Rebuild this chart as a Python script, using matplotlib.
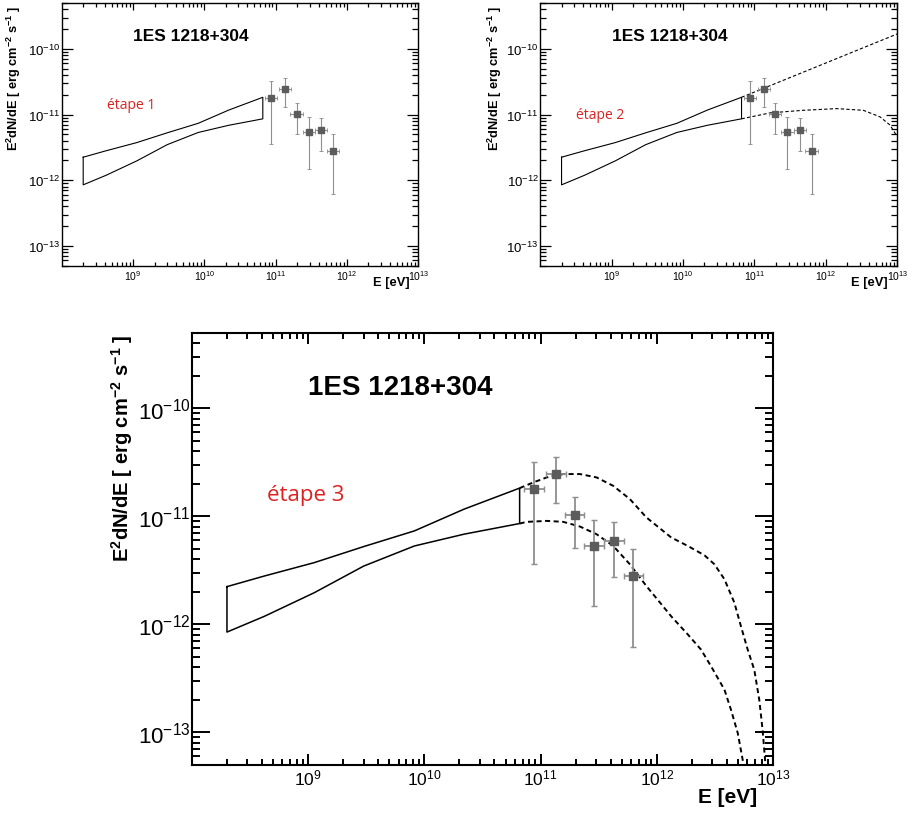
import matplotlib
matplotlib.use("Agg")
import matplotlib.pyplot as plt
from matplotlib.ticker import NullFormatter, LogLocator

plt.rcParams["font.family"] = "Liberation Sans"
plt.rcParams["mathtext.default"] = "regular"

# measured spectral points (E in eV, E^2 dN/dE in erg cm^-2 s^-1)
energy = [8.7e10, 1.35e11, 1.96e11, 2.9e11, 4.3e11, 6.3e11]
energy_low = [7.15e10, 1.11e11, 1.61e11, 2.38e11, 3.54e11, 5.18e11]
energy_high = [1.06e11, 1.64e11, 2.38e11, 3.53e11, 5.23e11, 7.66e11]
flux = [1.8e-11, 2.45e-11, 1.03e-11, 5.35e-12, 5.9e-12, 2.8e-12]
flux_low = [3.6e-12, 1.32e-11, 5.1e-12, 1.48e-12, 2.75e-12, 6.2e-13]
flux_high = [3.2e-11, 3.57e-11, 1.52e-11, 9.2e-12, 8.9e-12, 5.0e-12]

# Fermi butterfly
bt_energy = [2.0e8, 4.2e8, 1.13e9, 3.0e9, 8.2e9, 2.2e10, 6.6e10]
bt_upper = [2.24e-12, 2.81e-12, 3.74e-12, 5.26e-12, 7.35e-12, 1.17e-11, 1.83e-11]
bt_lower = [8.5e-13, 1.19e-12, 1.97e-12, 3.47e-12, 5.33e-12, 6.86e-12, 8.6e-12]

# step 2: extrapolations
s2_up_e = [6.6e10, 1.0e13]
s2_up_f = [1.83e-11, 1.69e-10]
s2_lo_e = [6.6e10, 1.66e11, 4.84e11, 1.42e12, 3.34e12, 5.73e12, 7.91e12, 9.6e12]
s2_lo_f = [8.6e-12, 1.06e-11, 1.16e-11, 1.23e-11, 1.16e-11, 9.2e-12, 6.9e-12, 4.9e-12]

# step 3: absorbed by EBL
s3_up_e = [6.6e10, 8.69e10, 1.13e11, 1.57e11, 2.18e11, 3.03e11, 4.22e11, 5.86e11,
           8.13e11, 9.59e11, 1.33e12, 1.85e12, 2.57e12, 3.13e12, 3.82e12, 4.65e12,
           5.30e12, 6.04e12, 6.90e12, 7.62e12, 8.13e12, 8.63e12]
s3_up_f = [1.83e-11, 2.07e-11, 2.30e-11, 2.47e-11, 2.47e-11, 2.30e-11, 1.92e-11, 1.45e-11,
           9.8e-12, 8.49e-12, 6.39e-12, 5.33e-12, 4.37e-12, 3.61e-12, 2.62e-12, 1.59e-12,
           9.6e-13, 5.9e-13, 3.8e-13, 2.0e-13, 1.06e-13, 4.9e-14]
s3_lo_e = [6.6e10, 7.6e10, 1.13e11, 1.57e11, 2.18e11, 3.03e11, 4.22e11, 5.86e11,
           8.13e11, 9.59e11, 1.33e12, 1.85e12, 2.40e12, 2.93e12, 3.82e12, 4.35e12,
           4.97e12, 5.48e12, 5.58e12]
s3_lo_f = [8.6e-12, 8.91e-12, 9.10e-12, 8.91e-12, 8.07e-12, 6.85e-12, 5.33e-12, 3.61e-12,
           2.27e-12, 1.83e-12, 1.19e-12, 8.07e-13, 5.86e-13, 4.10e-13, 2.49e-13, 1.62e-13,
           9.9e-14, 5.6e-14, 4.9e-14]

x_ticks = [1e9, 1e10, 1e11, 1e12, 1e13]
y_ticks = [1e-13, 1e-12, 1e-11, 1e-10]
source = "1ES 1218+304"
red = "#dd2222"

# font sizes / line widths for small (top) and big (bottom) panels
small = dict(title=12.5, etape=10, ytick=9.5, xtick=7.5, ylabel=9.2, xlabel=9.3,
             lw=0.8, dlw=0.8, dash=(0, (3, 2)), spine=1.0, tickw=0.9, ms=3.8,
             ymaj=8, ymin=4, xmaj=5, xmin=3, elw=0.8, cap=1.4)
big = dict(title=20, etape=16, ytick=16, xtick=12.5, ylabel=14.5, xlabel=15,
           lw=1.1, dlw=1.4, dash=(0, (2.6, 1.8)), spine=1.5, tickw=1.4, ms=6.0,
           ymaj=13, ymin=6, xmaj=8, xmin=4.5, elw=1.3, cap=2.2)


def draw_panel(ax, stage, st, etape_pos, ylab_x, ylab_top, xlab_x, xlab_y):
    # butterfly outline
    xs = bt_energy + bt_energy[::-1] + [bt_energy[0]]
    ys = bt_upper + bt_lower[::-1] + [bt_upper[0]]
    ax.plot(xs, ys, color="black", lw=st["lw"])

    if stage == 2:
        ax.plot(s2_up_e, s2_up_f, color="black", lw=st["dlw"], ls=st["dash"])
        ax.plot(s2_lo_e, s2_lo_f, color="black", lw=st["dlw"], ls=st["dash"])
    if stage == 3:
        ax.plot(s3_up_e, s3_up_f, color="black", lw=st["dlw"], ls=st["dash"])
        ax.plot(s3_lo_e, s3_lo_f, color="black", lw=st["dlw"], ls=st["dash"])

    xerr = [[e - lo for e, lo in zip(energy, energy_low)],
            [hi - e for e, hi in zip(energy, energy_high)]]
    yerr = [[f - lo for f, lo in zip(flux, flux_low)],
            [hi - f for f, hi in zip(flux, flux_high)]]
    ax.errorbar(energy, flux, xerr=xerr, yerr=yerr, fmt="s",
                ms=st["ms"], mfc="#5c5c5c", mec="#5c5c5c",
                ecolor="#8f8f8f", elinewidth=st["elw"], capsize=st["cap"],
                capthick=st["elw"] * 0.8, zorder=3)

    ax.set_xscale("log")
    ax.set_yscale("log")
    ax.set_xlim(1e8, 1e13)
    ax.set_ylim(5e-14, 5e-10)
    ax.set_xticks(x_ticks)
    ax.set_yticks(y_ticks)
    ax.xaxis.set_minor_locator(LogLocator(base=10, subs=[2, 3, 4, 5, 6, 7, 8, 9], numticks=20))
    ax.yaxis.set_minor_locator(LogLocator(base=10, subs=[2, 3, 4, 5, 6, 7, 8, 9], numticks=20))
    ax.xaxis.set_minor_formatter(NullFormatter())
    ax.yaxis.set_minor_formatter(NullFormatter())

    for sp in ax.spines.values():
        sp.set_linewidth(st["spine"])
    ax.tick_params(axis="y", which="major", direction="in", left=True, right=True,
                   length=st["ymaj"], width=st["tickw"], color="black",
                   labelsize=st["ytick"], pad=1)
    ax.tick_params(axis="y", which="minor", direction="in", left=True, right=True,
                   length=st["ymin"], width=st["tickw"], color="black")
    ax.tick_params(axis="x", which="major", direction="in", bottom=True, top=True,
                   length=st["xmaj"], width=st["tickw"], color="black",
                   labelsize=st["xtick"], pad=1.5)
    ax.tick_params(axis="x", which="minor", direction="in", bottom=True, top=True,
                   length=st["xmin"], width=st["tickw"], color="black")

    ax.text(0.2, 0.875, source, transform=ax.transAxes, fontsize=st["title"],
            fontweight="bold", ha="left", va="center")
    ax.text(etape_pos[0], etape_pos[1], f"étape {stage}", transform=ax.transAxes,
            fontsize=st["etape"], color=red, family="Open Sans", ha="left", va="center")
    ax.text(ylab_x, ylab_top, r"E$^{2}$dN/dE [ erg cm$^{-2}$ s$^{-1}$ ]",
            transform=ax.transAxes, rotation=90, fontsize=st["ylabel"],
            fontweight="bold", ha="center", va="top")
    ax.text(xlab_x, xlab_y, "E [eV]", transform=ax.transAxes, fontsize=st["xlabel"],
            fontweight="bold", ha="right", va="center")


fig = plt.figure(figsize=(9.09, 8.2), dpi=100)
ax1 = fig.add_axes([0.0679, 0.6748, 0.3923, 0.3204])
ax2 = fig.add_axes([0.5941, 0.6748, 0.3931, 0.3204])
ax3 = fig.add_axes([0.2112, 0.0659, 0.6392, 0.5268])

draw_panel(ax1, 1, small, (0.128, 0.612), -0.134, 0.99, 0.975, -0.062)
draw_panel(ax2, 2, small, (0.10, 0.577), -0.126, 0.99, 0.972, -0.062)
draw_panel(ax3, 3, big, (0.129, 0.627), -0.121, 1.0, 0.972, -0.074)

fig.savefig("out.png", dpi=100)
